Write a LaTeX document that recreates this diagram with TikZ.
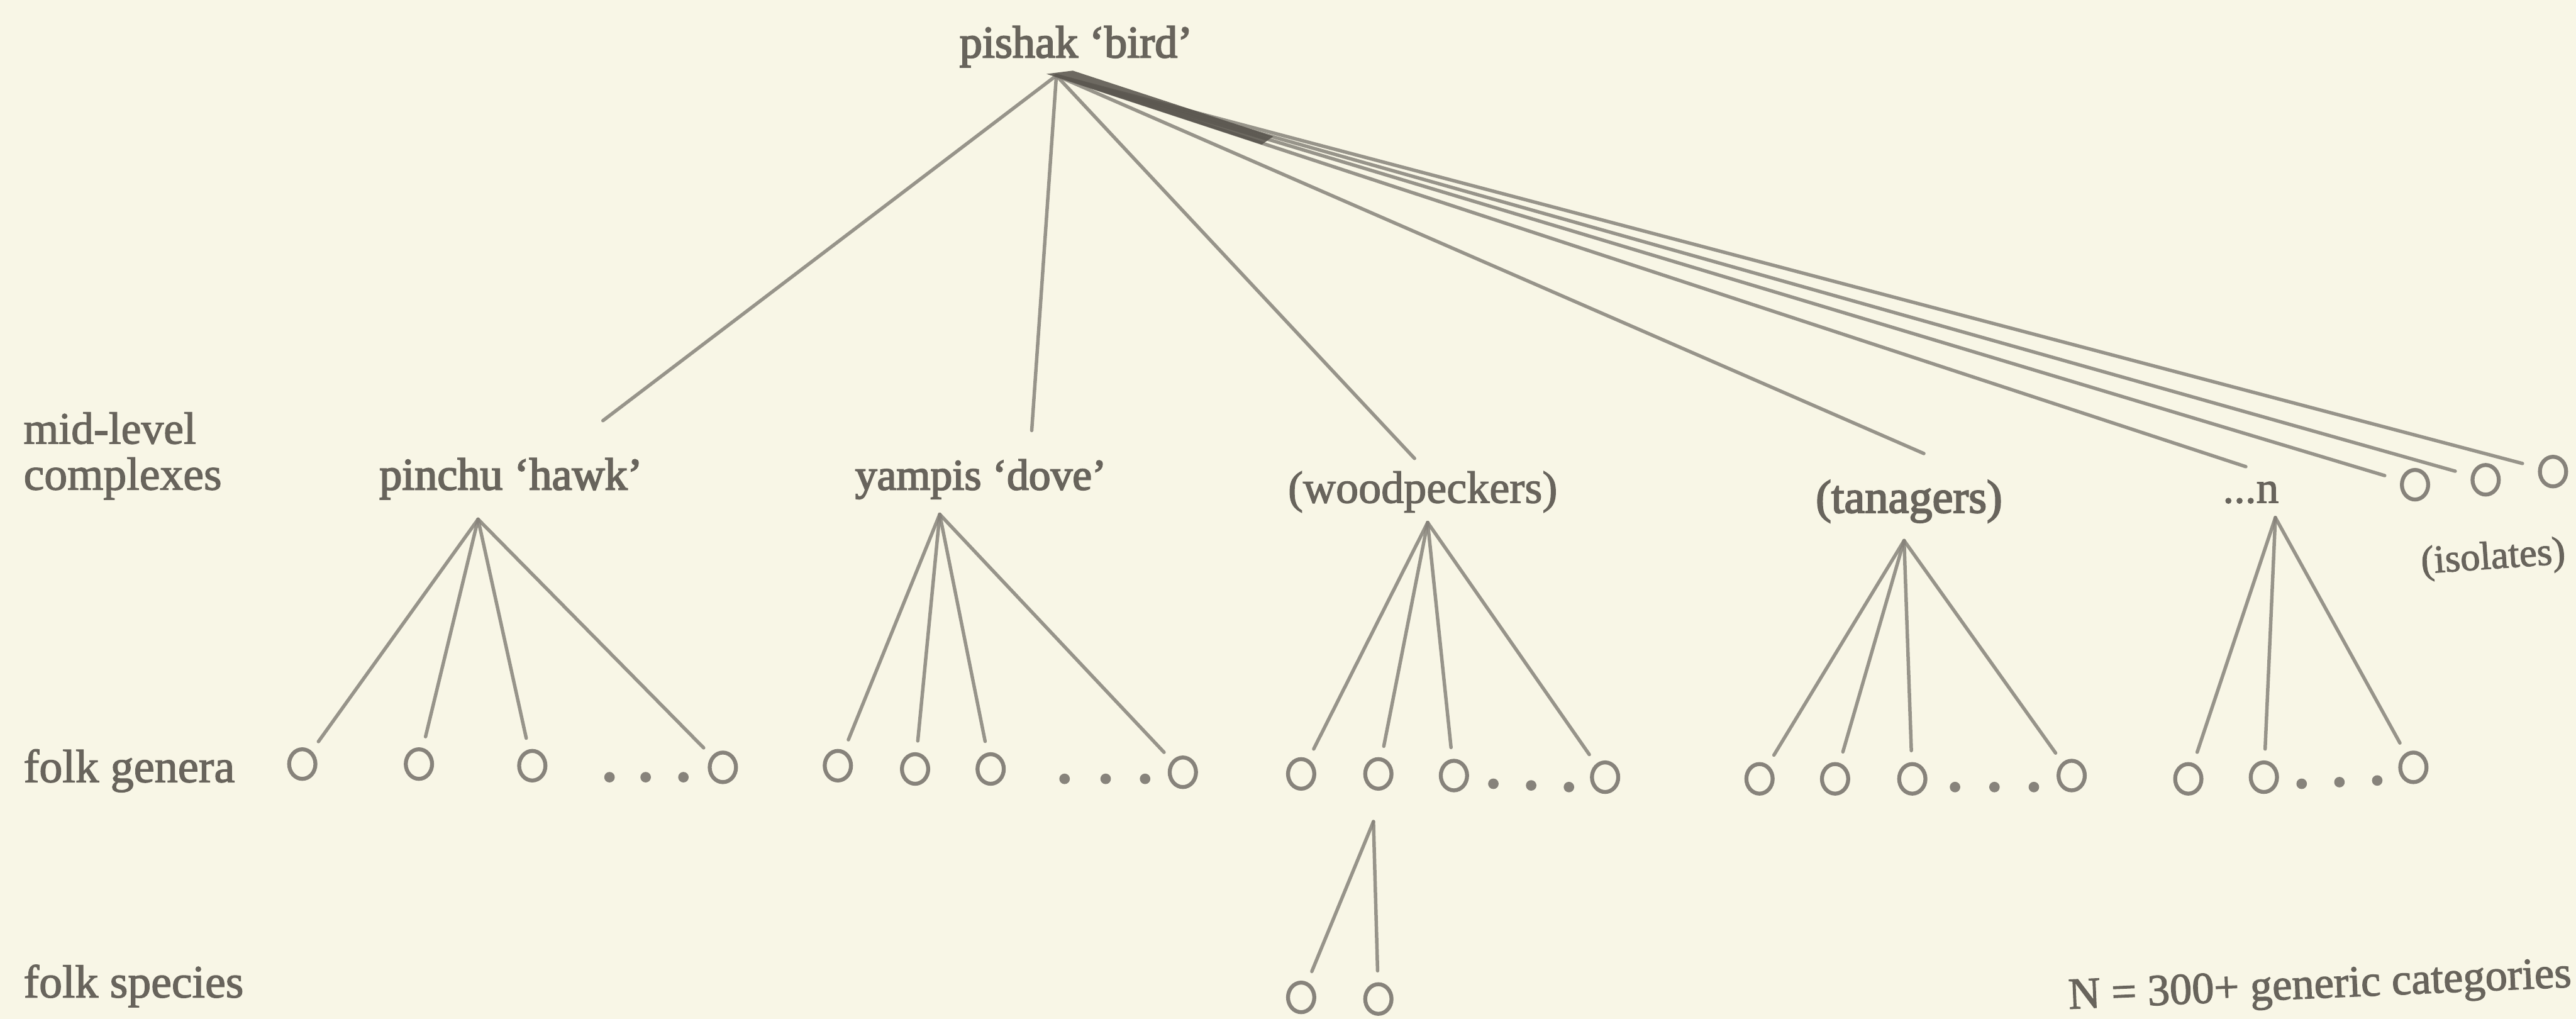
\documentclass[tikz,border=0pt]{standalone}
\usepackage{fontspec}
\setmainfont{Liberation Serif}[FakeBold=1.8]
\newfontfamily\heavyfont{Liberation Serif}[FakeBold=2.8]
\usetikzlibrary{shapes.geometric}
\definecolor{paper}{HTML}{F8F6E6}
\definecolor{ink}{HTML}{87837B}
\definecolor{inkdark}{HTML}{55514A}
\definecolor{txt}{HTML}{68645C}
\newcommand{\fs}[1]{\fontsize{#1}{#1}\selectfont}
\begin{document}
\begin{tikzpicture}[x=0.5pt,y=-0.5pt,
  branch/.style={draw=ink, line width=1.05pt, line cap=round, draw opacity=0.85},
  tofold/.style={branch, shorten >=3.5pt},
  taxon/.style={ellipse, draw=ink, line width=1.2pt, minimum width=8pt, minimum height=9pt, inner sep=0pt},
  lab/.style={text=txt, inner sep=0pt, anchor=base, font=\fs{13.8}},
  termlab/.style={lab, font=\heavyfont\fs{13.8}},
  side/.style={lab, anchor=base west},
  dot/.style={circle, fill=ink, inner sep=0pt, minimum size=3.2pt},
]
\fill[paper] (0,0) rectangle (1568,620);
\useasboundingbox (0,0) rectangle (1568,620);

% level labels on the left
\node[side, font=\fs{13.7}] (lv-mid1) at (14,270) {mid-level};
\node[side, font=\fs{14.1}] (lv-mid2) at (14,298) {complexes};
\node[side, font=\fs{14.2}] (lv-gen)  at (14,476) {folk genera};
\node[side, font=\fs{14.1}] (lv-spec) at (14,607) {folk species};

% life form and mid-level complexes
\node[termlab, font=\heavyfont\fs{13.8}] (bird) at (655,35) {pishak ‘bird’};
\node[termlab] (hawk) at (311,298)  {pinchu ‘hawk’};
\node[termlab, font=\heavyfont\fs{13.3}] (dove) at (597,298)  {yampis ‘dove’};
\node[lab] (wood) at (866,306) {(woodpeckers)};
\node[termlab, font=\heavyfont\fs{14.2}] (tana) at (1162,312) {(tanagers)};
\node[lab, font=\fs{13.6}] (more) at (1370,306) {...n};
\node[lab, font=\fs{12}, rotate=4] (iso) at (1518,346) {(isolates)};
\node[lab, anchor=base west, font=\fs{13.5}, rotate=2.5] (count) at (1259,614) {N = 300+ generic categories};

% apexes of the fans
\coordinate (a-bird) at (643,46);
\coordinate (a-hawk) at (291,316);
\coordinate (a-dove) at (572,313);
\coordinate (a-wood) at (869,318);
\coordinate (a-tana) at (1159,329);
\coordinate (a-more) at (1385,315);
\coordinate (a-spec) at (836,500);

% free ends of the branches below pishak
\coordinate (e-hawk) at (367,256);
\coordinate (e-dove) at (628,262);
\coordinate (e-wood) at (861,279);
\coordinate (e-tana) at (1171,276);
\coordinate (e-more) at (1367,284);

% folk genera and species
\foreach \nm/\x/\y in {h1/184/465, h2/255/465, h3/324/466, h4/440/467,
                       d1/510/466, d2/557/468, d3/603/468, d4/720/470,
                       w1/792/471, w2/839/471, w3/885/472, w4/977/473,
                       t1/1071/474, t2/1117/474, t3/1164/474, t4/1261/472,
                       m1/1332/474, m2/1378/473, m3/1469/467,
                       s1/792/607, s2/839/608,
                       i1/1470/295, i2/1513/292, i3/1554/287}
  \node[taxon] (\nm) at (\x,\y) {};

% ellipsis dots between genera
\foreach \nm/\x/\y in {hd1/371/473, hd2/393/473, hd3/416/473,
                       dd1/648/474, dd2/673/474, dd3/697/474,
                       wd1/909/477, wd2/932/478, wd3/955/479,
                       td1/1190/479, td2/1214/479, td3/1238/479,
                       md1/1401/477, md2/1424/476, md3/1447/475}
  \node[dot] (\nm) at (\x,\y) {};

% branches from pishak
\foreach \e in {e-hawk, e-dove, e-wood, e-tana, e-more}
  \draw[branch] (a-bird) -- (\e);
\foreach \e in {i1, i2, i3}
  \draw[branch, shorten >=5pt] (a-bird) -- (\e);
\fill[inkdark, opacity=0.85] (637,45) -- (653,43) -- (775,83) -- (768,88) -- cycle;

% fans of genera
\foreach \n in {h1,h2,h3,h4} \draw[tofold] (a-hawk) -- (\n);
\foreach \n in {d1,d2,d3,d4} \draw[tofold] (a-dove) -- (\n);
\foreach \n in {w1,w2,w3,w4} \draw[tofold] (a-wood) -- (\n);
\foreach \n in {t1,t2,t3,t4} \draw[tofold] (a-tana) -- (\n);
\foreach \n in {m1,m2,m3}    \draw[tofold] (a-more) -- (\n);
\foreach \n in {s1,s2}       \draw[tofold] (a-spec) -- (\n);
\end{tikzpicture}
\end{document}
